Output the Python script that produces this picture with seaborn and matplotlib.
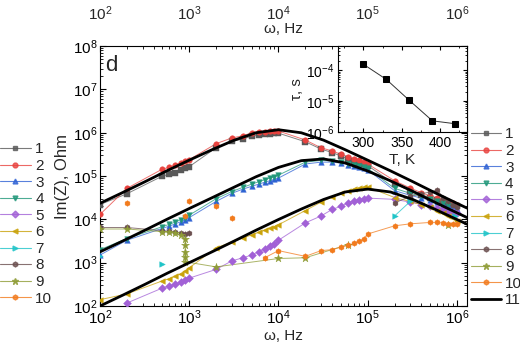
import numpy as np
import pandas as pd
import matplotlib
matplotlib.use("Agg")
import matplotlib.pyplot as plt
import seaborn as sns
from matplotlib.lines import Line2D
from matplotlib.ticker import LogLocator, MultipleLocator, NullFormatter

sns.set_theme(style="ticks")
plt.rcParams["font.family"] = ["Liberation Sans", "DejaVu Sans"]
plt.rcParams["mathtext.fontset"] = "custom"
plt.rcParams["mathtext.rm"] = "Liberation Sans"
plt.rcParams["mathtext.it"] = "Liberation Sans:italic"

# frequency blocks (Hz)
F_LOW = [100, 200, 500, 600, 700, 800, 900, 1000]
F_MID = [2000, 3000, 4000, 5000, 6000, 7000, 8000, 9000, 1e4]
F_HI = [2e4, 3e4, 4e4, 5e4, 6e4, 7e4, 8e4, 9e4, 1e5]
F_TOP = [2e5, 3e5, 4e5, 5e5, 6e5, 7e5, 8e5, 9e5, 1e6]

labels = ["1", "2", "3", "4", "5", "6", "7", "8", "9", "10"]
colors = ["#595959", "#e8433f", "#2f62d4", "#21977a", "#a261d6",
          "#c9a20a", "#1fc4c8", "#6b4f4f", "#8f9c36", "#f27b1d"]
markers = ["s", "o", "^", "v", "D", "<", ">", "h", "*", "h"]

f1 = F_LOW + F_MID + F_HI + F_TOP
z1 = [2.2e4, 3.9e4, 1.0e5, 1.1e5, 1.2e5, 1.35e5, 1.5e5, 1.65e5,
      4.5e5, 6.3e5, 7.2e5, 8.3e5, 8.8e5, 9.2e5, 9.5e5, 9.7e5, 9.8e5,
      6.2e5, 4.2e5, 3.5e5, 2.9e5, 2.5e5, 2.25e5, 2.05e5, 1.9e5, 1.75e5,
      6.5e4, 4.6e4, 3.7e4, 3.2e4, 2.8e4, 2.5e4, 2.3e4, 2.1e4, 2.0e4]
f2 = F_LOW + F_MID + F_HI + F_TOP
z2 = [1.3e4, 5.2e4, 1.45e5, 1.6e5, 1.8e5, 2.0e5, 2.2e5, 2.4e5,
      5.6e5, 7.6e5, 8.5e5, 1.0e6, 1.04e6, 1.07e6, 1.08e6, 1.1e6, 1.1e6,
      6.8e5, 4.5e5, 3.8e5, 3.2e5, 2.8e5, 2.5e5, 2.3e5, 2.1e5, 1.9e5,
      7.8e4, 5.3e4, 4.1e4, 3.5e4, 3.1e4, 2.8e4, 2.6e4, 2.4e4, 2.2e4]
f3 = F_LOW + F_MID + F_HI + F_TOP
z3 = [1.5e3, 3.3e3, 6.2e3, 7.0e3, 7.9e3, 8.8e3, 9.8e3, 1.1e4,
      2.6e4, 4.0e4, 5.0e4, 5.8e4, 6.5e4, 7.2e4, 7.8e4, 8.4e4, 9.0e4,
      1.9e5, 2.1e5, 2.1e5, 2.0e5, 1.85e5, 1.7e5, 1.6e5, 1.5e5, 1.4e5,
      4.6e4, 3.6e4, 3.1e4, 2.8e4, 2.5e4, 2.3e4, 2.1e4, 1.9e4, 1.7e4]
f4 = F_LOW + F_MID + F_HI + F_TOP
z4 = [2.0e3, 3.6e3, 6.8e3, 7.7e3, 8.7e3, 9.8e3, 1.1e4, 1.25e4,
      3.0e4, 4.4e4, 5.5e4, 6.5e4, 7.4e4, 8.2e4, 9.0e4, 9.7e4, 1.05e5,
      2.1e5, 2.3e5, 2.25e5, 2.1e5, 1.95e5, 1.8e5, 1.7e5, 1.6e5, 1.5e5,
      5.2e4, 4.0e4, 3.4e4, 3.0e4, 2.7e4, 2.4e4, 2.2e4, 2.0e4, 1.8e4]
f5 = F_LOW[1:] + F_MID + F_HI + F_TOP
z5 = [117, 260, 290, 320, 360, 400, 440,
      700, 1.1e3, 1.3e3, 1.5e3, 1.8e3, 2.1e3, 2.4e3, 2.7e3, 3.3e3,
      8.3e3, 1.2e4, 1.7e4, 2.0e4, 2.4e4, 2.7e4, 2.8e4, 3.0e4, 3.1e4,
      2.9e4, 2.5e4, 2.2e4, 2.0e4, 1.8e4, 1.7e4, 1.6e4, 1.5e4, 1.4e4]
f6 = F_LOW + F_MID + F_HI + F_TOP
z6 = [140, 190, 380, 430, 480, 560, 640, 760,
      2.2e3, 3.0e3, 3.7e3, 4.4e3, 5.0e3, 5.6e3, 6.2e3, 6.8e3, 7.5e3,
      1.6e4, 2.5e4, 3.3e4, 4.0e4, 4.6e4, 5.0e4, 5.3e4, 5.5e4, 5.6e4,
      3.2e4, 2.6e4, 2.2e4, 1.9e4, 1.6e4, 1.4e4, 1.2e4, 1.05e4, 9.0e3]
f7 = [100, None, 500, None, 2e5, 3e5, None, 9.5e5]
z7 = [1.4e3, None, 950, None, 1.2e4, 2.6e4, None, 1.2e4]
f8 = F_LOW + [None] + F_TOP
z8 = [6.5e3, 6.5e3, 5.5e3, 5.3e3, 5.1e3, 4.9e3, 4.7e3, 4.9e3, None,
      2.4e4, 3.4e4, 3.9e4, 4.3e4, 4.8e4, 3.2e4, 2.6e4, 2.2e4, 1.9e4]
f9 = [100, 200, 500, 600, 700, 800, 900, 900, 900, 900, 900, 2000, 1e4, 2e4, 6e4, None, 8e5]
z9 = [6.0e3, 6.0e3, 5.2e3, 5.0e3, 4.8e3, 4.4e3, 3.6e3, 2.5e3, 1.8e3, 1.35e3, 1.05e3,
      800, 1.25e3, 1.3e3, 2.6e3, None, 7.5e3]
f10 = [200, None, 900, None, 1000, None, 2000, None, 3000, None, 7000, 1e4, 2e4,
       3e4, 4e4, 5e4, 6e4, 7e4, 8e4, 9e4, 1e5, 2e5, 3e5, 5e5, 6e5, 7e5, 8e5, 9e5, 1e6]
z10 = [2.4e4, None, 1.2e4, None, 2.6e4, None, 2.0e4, None, 1.1e4, None, 1.3e3, 1.9e3, 1.4e3,
       1.9e3, 2.0e3, 2.3e3, 2.5e3, 2.8e3, 3.2e3, 3.5e3, 4.6e3, 7.1e3, 7.9e3, 8.5e3, 8.5e3,
       8.3e3, 8.0e3, 8.0e3, 7.9e3]

series_f = [f1, f2, f3, f4, f5, f6, f7, f8, f9, f10]
series_z = [z1, z2, z3, z4, z5, z6, z7, z8, z9, z10]

# fitted curves (label 11)
fit_freq = [100, 180, 320, 560, 1000, 1800, 3200, 5600, 1e4, 1.8e4, 3.2e4, 5.6e4,
            1e5, 1.8e5, 3.2e5, 5.6e5, 1e6, 1.3e6]
fit_top = [2.35e4, 4.18e4, 7.43e4, 1.32e5, 2.33e5, 4.06e5, 6.76e5, 1.0e6, 1.175e6,
           1.0e6, 6.76e5, 4.06e5, 2.33e5, 1.32e5, 7.43e4, 4.18e4, 2.35e4, 1.82e4]
fit_mid = [1.78e3, 3.17e3, 5.64e3, 1.0e4, 1.78e4, 3.16e4, 5.57e4, 9.64e4, 1.585e5,
           2.27e5, 2.49e5, 2.01e5, 1.31e5, 7.76e4, 4.45e4, 2.51e4, 1.42e4, 1.10e4]
fit_low = [100, 178, 317, 564, 1.0e3, 1.78e3, 3.17e3, 5.62e3, 9.93e3,
           1.73e4, 2.88e4, 4.29e4, 5.01e4, 4.29e4, 2.88e4, 1.73e4, 9.93e3, 7.74e3]

# inset: relaxation time vs temperature
temp = [300, 330, 360, 390, 420]
tau = [1.55e-4, 5.0e-5, 1.05e-5, 2.3e-6, 1.85e-6]


def to_frame(f, z):
    rows = []
    seg = 0
    for fi, zi in zip(f, z):
        if fi is None:
            seg += 1
            continue
        rows.append((fi, zi, seg))
    return pd.DataFrame(rows, columns=["freq", "Z", "seg"])


fig = plt.figure(figsize=(5.2, 3.54), dpi=100)
ax = fig.add_axes([0.1923, 0.1356, 0.706, 0.734])

for f, z, c, m in zip(series_f, series_z, colors, markers):
    df = to_frame(f, z)
    ms = 6 if m == "*" else 4
    sns.lineplot(data=df, x="freq", y="Z", units="seg", estimator=None, sort=False,
                 color=c, lw=0.7, alpha=0.75, ax=ax, legend=False)
    sns.scatterplot(data=df, x="freq", y="Z", color=c, marker=m, s=ms ** 2,
                    edgecolor=c, linewidth=0.3, ax=ax, legend=False, zorder=3)

fit_df = pd.DataFrame({"freq": fit_freq * 3,
                       "Z": fit_top + fit_mid + fit_low,
                       "curve": ["a"] * 18 + ["b"] * 18 + ["c"] * 18})
sns.lineplot(data=fit_df, x="freq", y="Z", units="curve", estimator=None, sort=False,
             color="black", lw=2.0, ax=ax, legend=False, zorder=4)

ax.set_xscale("log")
ax.set_yscale("log")
ax.set_xlim(100, 1.3e6)
ax.set_ylim(1e2, 1e8)
ax.yaxis.set_major_locator(LogLocator(base=10, numticks=10))
ax.yaxis.set_minor_locator(LogLocator(base=10, subs=np.arange(2, 10), numticks=20))
ax.yaxis.set_minor_formatter(NullFormatter())
ax.xaxis.set_minor_formatter(NullFormatter())
ax.tick_params(which="both", direction="in", top=True, right=True, labelsize=11, colors="black")
ax.tick_params(which="major", length=4, width=0.8, pad=2)
ax.tick_params(which="minor", length=2, width=0.6)
for sp in ax.spines.values():
    sp.set_color("black")
    sp.set_linewidth(0.8)
ax.set_xlabel("ω, Hz", fontsize=11, labelpad=1)
ax.set_ylabel("Im(Z), Ohm", fontsize=12, labelpad=2)
ax.text(0.013, 0.965, "d", transform=ax.transAxes, fontsize=16, va="top", ha="left")

# upper frequency scale, labels floating above the frame
secax = ax.secondary_xaxis("top")
secax.set_xscale("log")
secax.tick_params(which="both", length=0, pad=17, labelsize=11)
secax.xaxis.set_minor_formatter(NullFormatter())
secax.spines["top"].set_visible(False)
ax.text(0.5, 1.066, "ω, Hz", transform=ax.transAxes, fontsize=11, ha="center", va="center")

# inset
axin = fig.add_axes([0.65, 0.627, 0.248, 0.243])
sns.lineplot(x=temp, y=tau, color="#333333", lw=0.7, marker="s", markersize=5,
             markeredgecolor="black", markerfacecolor="black", ax=axin)
axin.set_yscale("log")
axin.set_xlim(267, 435)
axin.set_ylim(1e-6, 6e-4)
axin.xaxis.set_major_locator(MultipleLocator(50))
axin.xaxis.set_minor_locator(MultipleLocator(25))
axin.yaxis.set_major_locator(LogLocator(base=10, numticks=10))
axin.yaxis.set_minor_locator(LogLocator(base=10, subs=np.arange(2, 10), numticks=20))
axin.yaxis.set_minor_formatter(NullFormatter())
axin.tick_params(which="both", direction="in", top=True, right=True, labelsize=10, colors="black")
axin.tick_params(which="major", length=3, width=0.8, pad=3)
axin.tick_params(which="minor", length=1.5, width=0.6)
for sp in axin.spines.values():
    sp.set_color("black")
    sp.set_linewidth(0.8)
axin.set_xlabel("T, K", fontsize=11, labelpad=2)
axin.set_ylabel("τ, s", fontsize=11, labelpad=1)

# legends
handles = [Line2D([], [], color=c, marker=m, ms=(5 if m == "*" else 3.5), lw=0.8,
                  alpha=0.8, markeredgecolor=c) for c, m in zip(colors, markers)]
fig.legend(handles, labels, loc="upper left", bbox_to_anchor=(0.0, 0.598),
           frameon=False, fontsize=11, handlelength=2.0, handletextpad=0.3,
           labelspacing=0.17, borderpad=0, borderaxespad=0)
handles2 = handles + [Line2D([], [], color="black", lw=2.0)]
fig.legend(handles2, labels + ["11"], loc="upper left", bbox_to_anchor=(0.905, 0.64),
           frameon=False, fontsize=11, handlelength=2.0, handletextpad=0.25,
           labelspacing=0.17, borderpad=0, borderaxespad=0)

fig.savefig("out.png", dpi=100)
